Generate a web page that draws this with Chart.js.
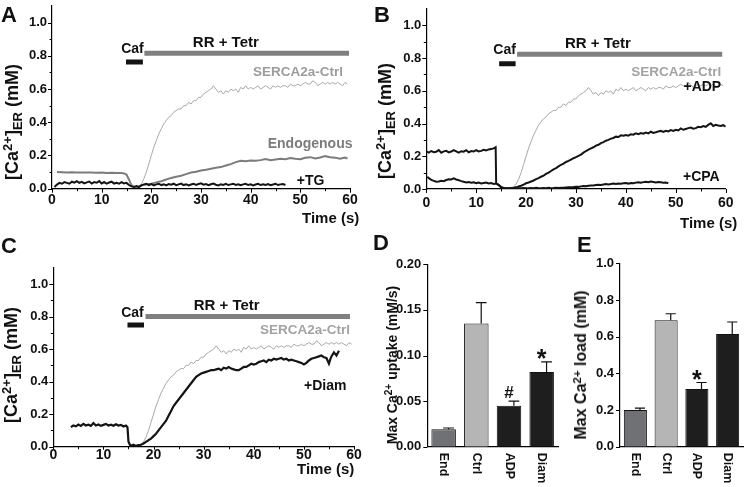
<!DOCTYPE html>
<html><head><meta charset="utf-8">
<script src="https://cdn.jsdelivr.net/npm/chart.js@4.4.1/dist/chart.umd.min.js"></script>
<style>
html,body{margin:0;padding:0;background:#fff;}
#wrap{position:relative;width:746px;height:487px;overflow:hidden;font-family:"Liberation Sans",Arial,Helvetica,sans-serif;font-weight:bold;color:#111;}
canvas{position:absolute;}
.t{position:absolute;white-space:nowrap;line-height:1;}
.yt{position:absolute;white-space:nowrap;line-height:1;transform:translate(-50%,-50%) rotate(-90deg);}
.yt sup{font-size:0.72em;vertical-align:0.45em;line-height:0;}
.yt sub{font-size:0.72em;vertical-align:-0.28em;line-height:0;}
</style></head><body>
<div id="wrap">
<canvas id="cA" width="373" height="240" style="left:0;top:-10px"></canvas>
<canvas id="cB" width="373" height="240" style="left:373px;top:-10px"></canvas>
<canvas id="cC" width="373" height="247" style="left:0;top:240px"></canvas>
<canvas id="cD" width="187" height="247" style="left:373px;top:240px"></canvas>
<canvas id="cE" width="186" height="247" style="left:560px;top:240px"></canvas>

<div class="t" style="left:1px;top:4px;font-size:22px">A</div>
<div class="t" style="left:374px;top:4px;font-size:22px">B</div>
<div class="t" style="left:1px;top:235px;font-size:22px">C</div>
<div class="t" style="left:373px;top:232px;font-size:22px">D</div>
<div class="t" style="left:577px;top:234px;font-size:22px">E</div>

<div class="yt" style="left:12px;top:122px;font-size:18px">[Ca<sup>2+</sup>]<sub>ER</sub> (mM)</div>
<div class="yt" style="left:385px;top:121px;font-size:18px">[Ca<sup>2+</sup>]<sub>ER</sub> (mM)</div>
<div class="yt" style="left:11px;top:365px;font-size:18px">[Ca<sup>2+</sup>]<sub>ER</sub> (mM)</div>
<div class="yt" style="left:392px;top:365px;font-size:14px">Max Ca<sup>2+</sup> uptake (mM/s)</div>
<div class="yt" style="left:581px;top:365px;font-size:16px">Max Ca<sup>2+</sup> load (mM)</div>

<div class="t" style="left:302px;top:210px;font-size:15px">Time (s)</div>
<div class="t" style="left:680px;top:215px;font-size:15px">Time (s)</div>
<div class="t" style="left:297px;top:461px;font-size:15px">Time (s)</div>
</div>
<script>
// ---------------- DATA ----------------
const timeTicks = [0, 10, 20, 30, 40, 50, 60];
const timeMinor = [5, 15, 25, 35, 45, 55];
const concTicks = [0, 0.2, 0.4, 0.6, 0.8, 1.0];
const concMinor = [0.1, 0.3, 0.5, 0.7, 0.9];

// SERCA2a-Ctrl reference trace [time s, mM]
const ctrlTrace = [[17.5,0.01],[18,0.03],[18.5,0.06],[19,0.10],[19.5,0.15],[20,0.20],[20.5,0.25],[21,0.29],[21.5,0.33],[22,0.36],
[22.5,0.39],[23,0.41],[23.5,0.43],[24,0.44],[24.5,0.46],[25,0.47],[25.5,0.48],[26,0.48],[26.5,0.50],[27,0.50],
[27.5,0.52],[28,0.51],[28.5,0.53],[29,0.53],[29.5,0.55],[30,0.55],[30.5,0.57],[31,0.58],[31.5,0.59],[32,0.60],
[32.5,0.62],[33,0.60],[33.5,0.58],[34,0.59],[34.5,0.57],[35,0.59],[35.5,0.58],[36,0.60],[36.5,0.59],[37,0.60],
[37.5,0.58],[38,0.61],[38.5,0.60],[39,0.62],[39.5,0.60],[40,0.61],[40.5,0.60],[41,0.61],[41.5,0.62],[42,0.60],
[42.5,0.61],[43,0.62],[43.5,0.61],[44,0.60],[44.5,0.62],[45,0.61],[45.5,0.62],[46,0.61],[46.5,0.62],[47,0.62],
[47.5,0.61],[48,0.63],[48.5,0.62],[49,0.62],[49.5,0.63],[50,0.62],[50.5,0.63],[51,0.64],[51.5,0.63],[52,0.63],
[52.5,0.65],[53,0.64],[53.5,0.62],[54,0.63],[54.5,0.64],[55,0.63],[55.5,0.64],[56,0.63],[56.5,0.64],[57,0.63],
[57.5,0.64],[58,0.63],[58.5,0.62],[59,0.64],[59.5,0.63]];

const endoTrace = [[1,0.100],[2,0.099],[3,0.098],[4,0.099],[5,0.097],[6,0.098],[7,0.097],[8,0.097],[9,0.096],[10,0.097],
[11,0.095],[12,0.096],[13,0.095],[14,0.094],[14.5,0.092],[15,0.085],[15.5,0.055],[16,0.022],[16.5,0.012],[17,0.010],
[17.5,0.014],[18,0.020],[19,0.025],[20,0.030],[21,0.038],[22,0.045],[23,0.055],[24,0.065],[25,0.072],[26,0.078],
[27,0.088],[28,0.097],[29,0.102],[30,0.110],[31,0.114],[32,0.120],[33,0.126],[34,0.130],[35,0.140],[36,0.148],
[37,0.160],[38,0.168],[39,0.165],[40,0.170],[41,0.168],[42,0.172],[43,0.178],[44,0.172],[45,0.176],[46,0.180],
[47,0.177],[48,0.185],[49,0.180],[50,0.178],[51,0.186],[52,0.190],[53,0.182],[54,0.188],[55,0.196],[56,0.190],
[57,0.187],[58,0.180],[59,0.188],[59.5,0.182]];

const tgTrace = [[0.5,0.010],[1,0.025],[1.5,0.035],[2,0.030],[2.5,0.040],[3,0.035],[3.5,0.030],[4,0.042],[4.5,0.036],[5,0.045],
[5.5,0.035],[6,0.041],[6.5,0.032],[7,0.038],[7.5,0.043],[8,0.031],[8.5,0.040],[9,0.036],[9.5,0.046],[10,0.031],
[10.5,0.040],[11,0.030],[11.5,0.037],[12,0.042],[12.5,0.031],[13,0.036],[13.5,0.030],[14,0.040],[14.5,0.032],[15,0.035],
[15.5,0.022],[16,0.014],[16.5,0.010],[17,0.016],[17.5,0.010],[18,0.020],[18.5,0.026],[19,0.030],[19.5,0.022],[20,0.028],
[20.5,0.020],[21,0.026],[21.5,0.030],[22,0.022],[22.5,0.027],[23,0.020],[23.5,0.028],[24,0.024],[24.5,0.030],[25,0.021],
[25.5,0.026],[26,0.031],[26.5,0.022],[27,0.027],[27.5,0.020],[28,0.025],[28.5,0.030],[29,0.023],[29.5,0.028],[30,0.032],
[30.5,0.024],[31,0.028],[31.5,0.021],[32,0.027],[32.5,0.031],[33,0.024],[33.5,0.020],[34,0.027],[34.5,0.023],[35,0.029],
[35.5,0.022],[36,0.026],[36.5,0.030],[37,0.023],[37.5,0.027],[38,0.021],[38.5,0.026],[39,0.029],[39.5,0.022],[40,0.026],
[40.5,0.020],[41,0.025],[41.5,0.029],[42,0.022],[42.5,0.027],[43,0.023],[43.5,0.028],[44,0.021],[44.5,0.025],[45,0.030],
[45.5,0.022],[46,0.026],[46.5,0.028],[47,0.022]];

const adpTrace = [[0,0.230],[0.5,0.222],[1,0.232],[1.5,0.225],[2,0.228],[2.5,0.238],[3,0.222],[3.5,0.230],[4,0.233],[4.5,0.224],
[5,0.229],[5.5,0.238],[6,0.230],[6.5,0.222],[7,0.231],[7.5,0.228],[8,0.237],[8.5,0.224],[9,0.232],[9.5,0.229],
[10,0.238],[10.5,0.230],[11,0.233],[11.5,0.240],[12,0.236],[12.5,0.242],[13,0.245],[13.5,0.248],[13.9,0.255],[14,0.035],
[14.5,0.025],[15,0.012],[15.5,0.006],[16,0.005],[16.5,0.004],[17,0.006],[17.5,0.008],[18,0.010],[18.5,0.015],[19,0.020],
[19.5,0.027],[20,0.035],[20.5,0.040],[21,0.046],[21.5,0.052],[22,0.060],[22.5,0.066],[23,0.075],[23.5,0.082],[24,0.092],
[24.5,0.100],[25,0.110],[25.5,0.120],[26,0.128],[26.5,0.138],[27,0.148],[27.5,0.155],[28,0.165],[28.5,0.172],[29,0.180],
[29.5,0.188],[30,0.195],[30.5,0.203],[31,0.210],[31.5,0.222],[32,0.232],[32.5,0.240],[33,0.248],[33.5,0.255],[34,0.265],
[34.5,0.270],[35,0.280],[35.5,0.286],[36,0.295],[36.5,0.300],[37,0.308],[37.5,0.312],[38,0.320],[38.5,0.318],[39,0.328],
[39.5,0.325],[40,0.330],[40.5,0.326],[41,0.335],[41.5,0.332],[42,0.340],[42.5,0.335],[43,0.342],[43.5,0.338],[44,0.345],
[44.5,0.340],[45,0.350],[45.5,0.343],[46,0.347],[46.5,0.352],[47,0.355],[47.5,0.349],[48,0.356],[48.5,0.352],[49,0.360],
[49.5,0.355],[50,0.362],[50.5,0.358],[51,0.370],[51.5,0.362],[52,0.367],[52.5,0.372],[53,0.375],[53.5,0.368],[54,0.372],
[54.5,0.380],[55,0.378],[55.5,0.385],[56,0.380],[56.5,0.392],[57,0.402],[57.5,0.385],[58,0.392],[58.5,0.388],[59,0.385],
[59.5,0.390],[60,0.382]];

const cpaTrace = [[0.2,0.075],[0.5,0.066],[1,0.056],[1.5,0.050],[2,0.044],[2.5,0.046],[3,0.050],[3.5,0.048],[4,0.055],[4.5,0.060],
[5,0.058],[5.5,0.065],[6,0.058],[6.5,0.054],[7,0.048],[7.5,0.044],[8,0.040],[8.5,0.042],[9,0.038],[9.5,0.041],
[10,0.035],[10.5,0.039],[11,0.034],[11.5,0.037],[12,0.040],[12.5,0.034],[13,0.036],[13.5,0.031],[14,0.034],[14.5,0.024],
[15,0.010],[15.5,0.005],[16,0.004],[16.5,0.003],[17,0.005],[17.5,0.004],[18,0.006],[18.5,0.005],[19,0.004],[19.5,0.006],
[20,0.005],[20.5,0.004],[21,0.006],[21.5,0.005],[22,0.007],[22.5,0.005],[23,0.004],[23.5,0.006],[24,0.005],[24.5,0.007],
[25,0.005],[25.5,0.006],[26,0.008],[26.5,0.006],[27,0.008],[27.5,0.007],[28,0.009],[28.5,0.010],[29,0.011],[29.5,0.012],
[30,0.014],[30.5,0.013],[31,0.016],[31.5,0.018],[32,0.017],[32.5,0.020],[33,0.022],[33.5,0.021],[34,0.024],[34.5,0.026],
[35,0.025],[35.5,0.028],[36,0.030],[36.5,0.028],[37,0.031],[37.5,0.033],[38,0.030],[38.5,0.034],[39,0.032],[39.5,0.035],
[40,0.036],[40.5,0.033],[41,0.037],[41.5,0.035],[42,0.039],[42.5,0.041],[43,0.038],[43.5,0.042],[44,0.044],[44.5,0.041],
[45,0.046],[45.5,0.043],[46,0.040],[46.5,0.043],[47,0.041],[47.5,0.038],[48,0.039],[48.5,0.035]];

const diamTrace = [[3.5,0.120],[4,0.130],[4.5,0.125],[5,0.136],[5.5,0.128],[6,0.140],[6.5,0.130],[7,0.135],[7.5,0.128],[8,0.145],
[8.5,0.130],[9,0.136],[9.5,0.128],[10,0.134],[10.5,0.140],[11,0.130],[11.5,0.135],[12,0.129],[12.5,0.138],[13,0.130],
[13.5,0.134],[14,0.124],[14.5,0.130],[14.8,0.120],[15,0.030],[15.3,0.010],[15.5,0.006],[16,0.012],[16.5,0.005],[17,0.010],
[17.5,0.012],[18,0.020],[18.5,0.030],[19,0.040],[19.5,0.050],[20,0.065],[20.5,0.080],[21,0.100],[21.5,0.120],[22,0.140],
[22.5,0.160],[23,0.190],[23.5,0.220],[24,0.250],[24.5,0.270],[25,0.290],[25.5,0.310],[26,0.330],[26.5,0.350],[27,0.370],
[27.5,0.390],[28,0.410],[28.5,0.430],[29,0.440],[29.5,0.450],[30,0.455],[30.5,0.460],[31,0.465],[31.5,0.470],[32,0.470],
[32.5,0.475],[33,0.480],[33.5,0.470],[34,0.485],[34.5,0.480],[35,0.490],[35.5,0.480],[36,0.475],[36.5,0.470],[37,0.470],
[37.5,0.480],[38,0.490],[38.5,0.490],[39,0.500],[39.5,0.510],[40,0.505],[40.5,0.510],[41,0.520],[41.5,0.525],[42,0.530],
[42.5,0.520],[43,0.535],[43.5,0.530],[44,0.540],[44.5,0.535],[45,0.540],[45.5,0.545],[46,0.535],[46.5,0.540],[47,0.530],
[47.5,0.535],[48,0.530],[48.5,0.525],[49,0.520],[49.5,0.515],[50,0.505],[50.5,0.515],[51,0.530],[51.5,0.540],[52,0.545],
[52.5,0.550],[53,0.555],[53.5,0.560],[54,0.550],[54.5,0.545],[55,0.510],[55.3,0.540],[55.5,0.555],[56,0.580],[56.5,0.560],
[57,0.590]];

// treatment bars [start s, end s, level mM]
const cafBarA = [14.9, 18.3, 0.763], rrBarA = [18.6, 59.8, 0.815];
const cafBarB = [14.6, 17.9, 0.766], rrBarB = [18.2, 59.3, 0.823];
const cafBarC = [14.8, 18.1, 0.748], rrBarC = [18.4, 59.2, 0.800];

// bar panels
const groups = ['End', 'Ctrl', 'ADP', 'Diam'];
const uptakeMean = [0.019, 0.135, 0.045, 0.082];
const uptakeErr  = [0.0015, 0.023, 0.005, 0.011];
const uptakeMarks = ['', '', '#', '*'];
const uptakeTicks = [0, 0.05, 0.10, 0.15, 0.20];
const loadMean = [0.20, 0.69, 0.315, 0.615];
const loadErr  = [0.01, 0.035, 0.035, 0.065];
const loadMarks = ['', '', '*', ''];
const loadTicks = [0, 0.2, 0.4, 0.6, 0.8, 1.0];

// ---------------- STYLE ----------------
const FF = '"Liberation Sans", Arial, Helvetica, sans-serif';
Chart.defaults.font.family = FF;
Chart.defaults.font.weight = 'bold';
Chart.defaults.color = '#111';
const C_CTRL = '#a9a9a9', C_ENDO = '#7c7c7c', C_BLK = '#141414', C_RR = '#808080';
const barColors = ['#707174', '#b5b5b5', '#1e1e1e', '#1e1e1e'];

const extra = {};
const deco = {
  id: 'deco',
  afterDraw(chart) {
    const c = extra[chart.canvas.id]; if (!c) return;
    const ctx = chart.ctx, xs = chart.scales.x, ys = chart.scales.y, a = chart.chartArea;
    ctx.save();
    ctx.strokeStyle = '#000'; ctx.lineWidth = 1;
    const tick = (list, len, axis) => {
      for (const v of list || []) {
        ctx.beginPath();
        if (axis === 'x') { const p = Math.round(xs.getPixelForValue(v)) + 0.5; ctx.moveTo(p, a.bottom); ctx.lineTo(p, a.bottom + len); }
        else { const p = Math.round(ys.getPixelForValue(v)) + 0.5; ctx.moveTo(a.left, p); ctx.lineTo(a.left - len, p); }
        ctx.stroke();
      }
    };
    tick(c.xMaj, c.xTickLen || 4, 'x'); tick(c.xMin, 2.5, 'x'); tick(c.yMaj, 4, 'y'); tick(c.yMin, 2.5, 'y');
    // x tick labels (time axis)
    if (c.xLabOff) {
      ctx.font = 'bold 14px ' + FF; ctx.fillStyle = '#111';
      ctx.textAlign = 'center'; ctx.textBaseline = 'middle';
      for (const v of c.xMaj) ctx.fillText(String(v), xs.getPixelForValue(v), a.bottom + c.xLabOff);
    }
    // texts in data coordinates
    for (const t of c.texts || []) {
      ctx.font = 'bold ' + t.size + 'px ' + FF;
      ctx.fillStyle = t.color || '#111'; ctx.textAlign = t.align || 'center'; ctx.textBaseline = 'middle';
      ctx.fillText(t.text, xs.getPixelForValue(t.x), ys.getPixelForValue(t.y));
    }
    // error bars + significance marks
    if (c.err) {
      const meta = chart.getDatasetMeta(0);
      const vals = chart.data.datasets[0].data;
      meta.data.forEach((el, i) => {
        const w = el.width, x = el.x + 0.2 * w;
        const top = ys.getPixelForValue(vals[i] + c.err[i]);
        ctx.strokeStyle = '#111'; ctx.lineWidth = 1.2;
        ctx.beginPath(); ctx.moveTo(x, el.y); ctx.lineTo(x, top);
        ctx.moveTo(x - 0.22 * w, top); ctx.lineTo(x + 0.22 * w, top); ctx.stroke();
        const m = c.marks[i];
        if (m) {
          ctx.font = 'bold ' + (m === '*' ? 25 : 17) + 'px ' + FF;
          ctx.fillStyle = '#111'; ctx.textAlign = 'center'; ctx.textBaseline = 'alphabetic';
          const d = ctx.measureText(m).actualBoundingBoxDescent;
          ctx.fillText(m, el.x, top - 3 - d);
        }
      });
    }
    // rotated category labels
    if (c.rotLabels) {
      ctx.font = 'bold 12.5px ' + FF; ctx.fillStyle = '#111';
      ctx.textAlign = 'left'; ctx.textBaseline = 'middle';
      chart.data.labels.forEach((lab, i) => {
        const x = xs.getPixelForTick(i);
        ctx.save(); ctx.translate(x, a.bottom + 6); ctx.rotate(Math.PI / 2);
        ctx.fillText(lab, 0, 0); ctx.restore();
      });
    }
    ctx.restore();
  }
};
Chart.register(deco);

const pts = arr => arr.map(p => ({x: p[0], y: p[1]}));
const barLine = (b, color) => ({data: [{x: b[0], y: b[2]}, {x: b[1], y: b[2]}], borderColor: color, borderWidth: 5, borderCapStyle: 'butt', pointRadius: 0});
const trace = (arr, color, w) => ({data: pts(arr), borderColor: color, borderWidth: w, pointRadius: 0, tension: 0});

function lineChart(id, datasets, g) {
  new Chart(document.getElementById(id), {
    type: 'line',
    data: {datasets},
    options: {
      responsive: false, animation: false, maintainAspectRatio: false,
      layout: {padding: {left: 0, right: g.padR, top: g.padT, bottom: 0}},
      plugins: {legend: {display: false}, tooltip: {enabled: false}},
      scales: {
        x: {type: 'linear', min: 0, max: 60,
            grid: {display: false, drawTicks: false},
            border: {display: true, color: '#000', width: 1.2},
            ticks: {display: false},
            afterBuildTicks: s => { s.ticks = timeTicks.map(v => ({value: v})); },
            afterFit: s => { s.height = g.xH; }},
        y: {min: 0, max: 1.1,
            grid: {display: false, drawTicks: false},
            border: {display: true, color: '#000', width: 1.2},
            ticks: {padding: 5, font: {size: 13, weight: 'bold'}, color: '#111', callback: v => Number(v).toFixed(1)},
            afterBuildTicks: s => { s.ticks = concTicks.map(v => ({value: v})); },
            afterFit: s => { s.width = g.yW; }}
      }
    }
  });
}

function barChart(id, means, errs, marks, yTicks, ymax, dec, g) {
  extra[id] = {yMaj: yTicks, err: errs, marks: marks, rotLabels: true};
  new Chart(document.getElementById(id), {
    type: 'bar',
    data: {labels: groups, datasets: [{data: means, backgroundColor: barColors, borderColor: '#111', borderWidth: 1,
      barPercentage: 0.75, categoryPercentage: 1}]},
    options: {
      responsive: false, animation: false, maintainAspectRatio: false,
      layout: {padding: {left: 0, right: g.padR, top: g.padT, bottom: 0}},
      plugins: {legend: {display: false}, tooltip: {enabled: false}},
      scales: {
        x: {grid: {display: false, drawTicks: false}, border: {display: true, color: '#000', width: 1.2},
            ticks: {display: false}, afterFit: s => { s.height = g.xH; }},
        y: {min: 0, max: ymax, grid: {display: false, drawTicks: false},
            border: {display: true, color: '#000', width: 1.2},
            ticks: {padding: 6, font: {size: 13, weight: 'bold'}, color: '#111', callback: v => Number(v).toFixed(dec)},
            afterBuildTicks: s => { s.ticks = yTicks.map(v => ({value: v})); },
            afterFit: s => { s.width = g.yW; }}
      }
    }
  });
}

// ---- Panel A ----
extra.cA = {xMaj: timeTicks, xMin: timeMinor, yMaj: concTicks, yMin: concMinor, xLabOff: 11.5, texts: [
  {text: 'Caf', x: 16.2, y: 0.838, size: 14},
  {text: 'RR + Tetr', x: 35, y: 0.878, size: 15},
  {text: 'SERCA2a-Ctrl', x: 58.6, y: 0.70, size: 13.5, align: 'right', color: '#9c9c9c'},
  {text: 'Endogenous', x: 60.5, y: 0.27, size: 14, align: 'right', color: C_ENDO},
  {text: '+TG', x: 49.3, y: 0.045, size: 14, align: 'left'}]};
lineChart('cA', [
  trace(tgTrace, C_BLK, 2), trace(endoTrace, C_ENDO, 2), trace(ctrlTrace, C_CTRL, 1),
  barLine(cafBarA, C_BLK), barLine(rrBarA, C_RR)
], {yW: 52, padR: 23, padT: 16, xH: 41.3});

// ---- Panel B ----
extra.cB = {xMaj: timeTicks, xMin: timeMinor, yMaj: concTicks, yMin: concMinor, xLabOff: 14, texts: [
  {text: 'Caf', x: 15.7, y: 0.85, size: 14},
  {text: 'RR + Tetr', x: 34.4, y: 0.887, size: 15},
  {text: 'SERCA2a-Ctrl', x: 59.1, y: 0.715, size: 13.5, align: 'right', color: '#a3a3a3'},
  {text: '+ADP', x: 59.1, y: 0.62, size: 14, align: 'right'},
  {text: '+CPA', x: 58.8, y: 0.075, size: 14, align: 'right'}]};
lineChart('cB', [
  trace(adpTrace, C_BLK, 2), trace(cpaTrace, C_BLK, 2), trace(ctrlTrace, C_CTRL, 1),
  barLine(cafBarB, C_BLK), barLine(rrBarB, C_RR)
], {yW: 53.3, padR: 20.3, padT: 19, xH: 41});

// ---- Panel C ----
extra.cC = {xMaj: timeTicks, xMin: timeMinor, yMaj: concTicks, yMin: concMinor, xLabOff: 8, xTickLen: 3, texts: [
  {text: 'Caf', x: 15.8, y: 0.82, size: 14},
  {text: 'RR + Tetr', x: 34.6, y: 0.868, size: 15},
  {text: 'SERCA2a-Ctrl', x: 59.2, y: 0.717, size: 13.5, align: 'right', color: '#a3a3a3'},
  {text: '+Diam', x: 58.5, y: 0.37, size: 14, align: 'right'}]};
lineChart('cC', [
  trace(diamTrace, C_BLK, 2.2), trace(ctrlTrace, C_CTRL, 1),
  barLine(cafBarC, C_BLK), barLine(rrBarC, C_RR)
], {yW: 53.3, padR: 19, padT: 27.7, xH: 40.3});

// ---- Panels D, E ----
barChart('cD', uptakeMean, uptakeErr, uptakeMarks, uptakeTicks, 0.2, 2, {yW: 54.3, padR: 2, padT: 24.3, xH: 40.3});
barChart('cE', loadMean, loadErr, loadMarks, loadTicks, 1.0, 1, {yW: 60, padR: 3, padT: 23.3, xH: 40.3});
</script>
</body></html>
